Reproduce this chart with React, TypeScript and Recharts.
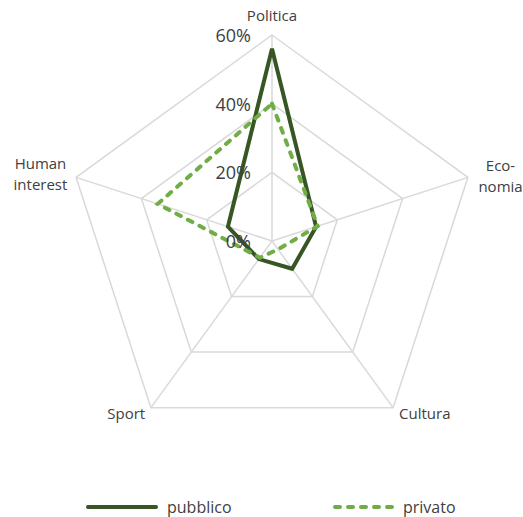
import React from 'react';
import { RadarChart, Radar, PolarGrid, PolarAngleAxis, PolarRadiusAxis, Legend } from 'recharts';

const categories = ['Politica', 'Economia', 'Cultura', 'Sport', 'Human interest'];
const pubblico = [56, 13.5, 10, 6.5, 13.5];
const privato = [40, 14, 3, 6, 35];
const radiusTicks = [0, 20, 40, 60];

const data = categories.map((c, i) => ({ category: c, pubblico: pubblico[i], privato: privato[i] }));

const FONT = '"Open Sans", sans-serif';
const TEXT = '#404040';

// label placement for each category, relative to the tick point
const labelLayout: Record<string, { dx: number; dy: number; lines: string[] }> = {
  Politica: { dx: 0, dy: -12, lines: ['Politica'] },
  Economia: { dx: 25, dy: -10, lines: ['Eco-', 'nomia'] },
  Cultura: { dx: 27, dy: -1.5, lines: ['Cultura'] },
  Sport: { dx: -20, dy: -1.5, lines: ['Sport'] },
  'Human interest': { dx: -28, dy: -11.5, lines: ['Human', 'interest'] },
};

const AngleTick = (props: any) => {
  const { x, y, payload } = props;
  const l = labelLayout[payload.value];
  return (
    <text x={x + l.dx} y={y + l.dy} textAnchor="middle" fill={TEXT} fontSize={15} fontFamily={FONT}>
      {l.lines.map((t, i) => (
        <tspan key={i} x={x + l.dx} dy={i === 0 ? 0 : 21} dominantBaseline="central">
          {t}
        </tspan>
      ))}
    </text>
  );
};

const RadiusTick = (props: any) => {
  const { x, y, payload } = props;
  return (
    <text x={x - 21} y={y} textAnchor="end" dominantBaseline="central" fill={TEXT} fontSize={18} fontFamily={FONT}>
      {payload.value}%
    </text>
  );
};

const LegendContent = () => (
  <div style={{ position: 'relative', height: 30 }}>
    <svg width={523} height={30} style={{ position: 'absolute', left: 0, top: 0 }}>
      <line x1={88} y1={15} x2={156} y2={15} stroke="#375623" strokeWidth={4} strokeLinecap="round" />
      <text x={167} y={15} dominantBaseline="central" fill={TEXT} fontSize={16} fontFamily={FONT}>pubblico</text>
      <line x1={335} y1={15} x2={392} y2={15} stroke="#70ad47" strokeWidth={4} strokeLinecap="round" strokeDasharray="5 8" />
      <text x={403} y={15} dominantBaseline="central" fill={TEXT} fontSize={16} fontFamily={FONT}>privato</text>
    </svg>
  </div>
);

export default function App() {
  return (
    <div style={{ position: 'absolute', left: 0, top: 0, width: 523, height: 517, background: '#fff' }}>
      <RadarChart
        width={523}
        height={517}
        data={data}
        cx={272}
        cy={241}
        outerRadius={206}
        margin={{ top: 0, right: 0, bottom: 0, left: 0 }}
      >
        <PolarGrid stroke="#d9d9d9" strokeWidth={1.5} gridType="polygon" />
        <PolarAngleAxis dataKey="category" tick={<AngleTick />} tickLine={false} axisLine={false} />
        <PolarRadiusAxis
          angle={90}
          domain={[0, 60]}
          ticks={radiusTicks}
          tick={<RadiusTick />}
          axisLine={false}
          tickLine={false}
        />
        <Radar
          name="pubblico"
          dataKey="pubblico"
          stroke="#375623"
          strokeWidth={4}
          fill="none"
          fillOpacity={0}
          dot={false}
          isAnimationActive={false}
        />
        <Radar
          name="privato"
          dataKey="privato"
          stroke="#70ad47"
          strokeWidth={4}
          strokeDasharray="5 8"
          strokeLinecap="round"
          fill="none"
          fillOpacity={0}
          dot={false}
          isAnimationActive={false}
        />
        <Legend
          content={<LegendContent />}
          wrapperStyle={{ position: 'absolute', left: 0, top: 492, width: 523, height: 30 }}
        />
      </RadarChart>
    </div>
  );
}
